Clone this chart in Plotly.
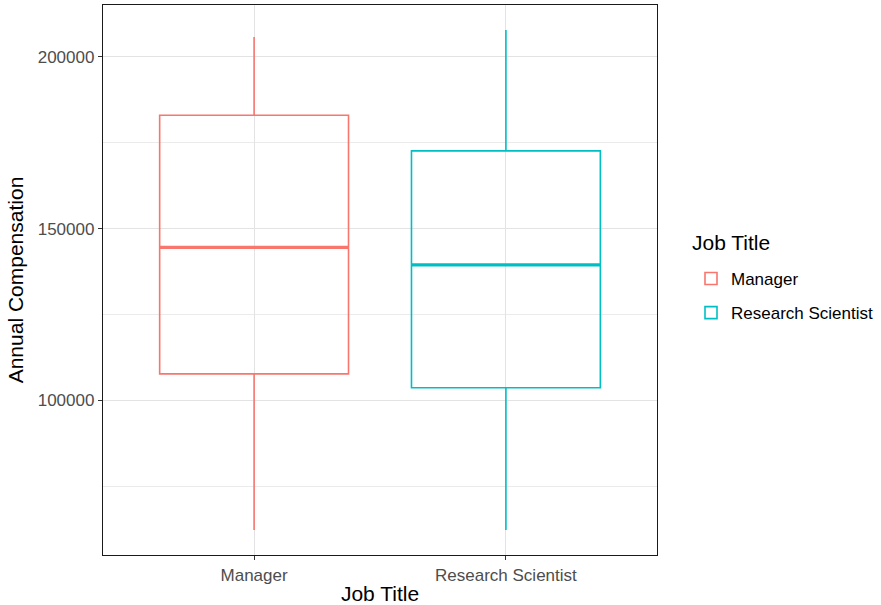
import plotly.graph_objects as go

categories = ["Manager", "Research Scientist"]
colors = ["#F8766D", "#00BFC4"]
lower = [62300, 62300]
q1 = [107760, 103690]
median = [144590, 139450]
q3 = [183050, 172670]
upper = [205810, 207850]
y_ticks = [100000, 150000, 200000]
y_minor = [75000, 125000, 175000]

W, H = 881, 605
L, R, T, B = 103, 224, 5, 50
PW, PH = W - L - R, H - T - B

fig = go.Figure()
for i, c in enumerate(categories):
    fig.add_trace(go.Box(
        x=[c], q1=[q1[i]], median=[median[i]], q3=[q3[i]],
        lowerfence=[lower[i]], upperfence=[upper[i]],
        name=c, marker_color=colors[i], legendgroup=c,
        line=dict(color=colors[i], width=1.6),
        fillcolor="rgba(255,255,255,0)",
        whiskerwidth=0, width=0.75, boxpoints=False,
        hoverinfo="skip",
    ))
    fig.add_shape(type="line", xref="x", yref="y",
                  x0=i - 0.375, x1=i + 0.375, y0=median[i], y1=median[i],
                  line=dict(color=colors[i], width=3.2), layer="above")

# legend title as annotation (pixel position converted to paper coords)
fig.add_annotation(text="Job Title", xref="paper", yref="paper",
                   x=(690 - L) / PW, y=(H - B - 242) / PH,
                   xanchor="left", yanchor="middle", showarrow=False,
                   font=dict(size=21, color="#000"))

lo = min(lower); hi = max(upper); pad = (hi - lo) * 0.05
fig.update_layout(
    width=W, height=H,
    margin=dict(l=L, r=R, t=T, b=B, autoexpand=False),
    plot_bgcolor="white", paper_bgcolor="white",
    boxmode="overlay",
    font=dict(family="Liberation Sans, Arial, sans-serif", color="#000000"),
    legend=dict(font=dict(size=17, color="#000"),
                x=(691 - L) / PW, xanchor="left",
                y=(H - B - 261) / PH, yanchor="top",
                bgcolor="rgba(0,0,0,0)", tracegroupgap=9),
    showlegend=True,
)
fig.update_xaxes(
    type="category", categoryorder="array", categoryarray=categories,
    range=[-0.6, 1.6], automargin=False,
    title=dict(text="Job Title", font=dict(size=21), standoff=6),
    showgrid=True, gridcolor="#E3E3E3", gridwidth=1.4,
    showline=True, linecolor="#1a1a1a", linewidth=1.3, mirror=True,
    ticks="outside", ticklen=4, tickcolor="#333333",
    tickfont=dict(size=17, color="#4D4D4D"), zeroline=False,
)
fig.update_yaxes(
    range=[lo - pad, hi + pad], automargin=False,
    tickvals=y_ticks, ticktext=[str(v) for v in y_ticks],
    title=dict(text="Annual Compensation", font=dict(size=21), standoff=8),
    showgrid=True, gridcolor="#E3E3E3", gridwidth=1.4,
    minor=dict(tickvals=y_minor, showgrid=True, gridcolor="#EBEBEB", gridwidth=1, ticks=""),
    showline=True, linecolor="#1a1a1a", linewidth=1.3, mirror=True,
    ticks="outside", ticklen=4, tickcolor="#333333",
    tickfont=dict(size=17, color="#4D4D4D"), zeroline=False,
)
fig.write_html("out.html", config={"displayModeBar": False},
               post_script="document.body.style.margin='0';")
